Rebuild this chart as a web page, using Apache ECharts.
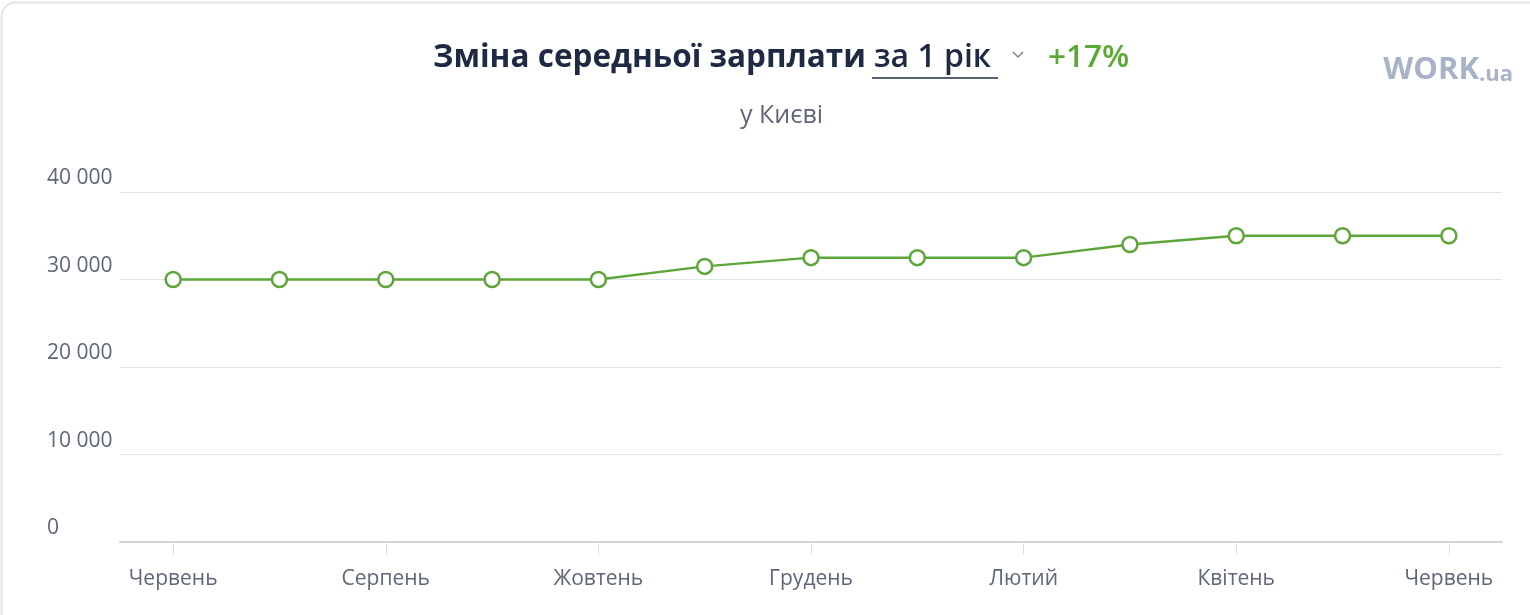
<!DOCTYPE html>
<html>
<head>
<meta charset="utf-8">
<script src="https://cdn.jsdelivr.net/npm/echarts@6/dist/echarts.min.js"></script>
<style>
  html, body { margin: 0; padding: 0; background: #fff; }
  #chart { width: 1530px; height: 615px; }
</style>
</head>
<body>
<div id="chart"></div>
<script>
// months, June to June
const months = ['Червень', 'Липень', 'Серпень', 'Вересень', 'Жовтень', 'Листопад', 'Грудень',
  'Січень', 'Лютий', 'Березень', 'Квітень', 'Травень', 'Червень']
// average salary, UAH
const salary = [30000, 30000, 30000, 30000, 30000, 31500, 32500, 32500, 32500, 34000, 35000, 35000, 35000]
const yTicks = [0, 10000, 20000, 30000, 40000]

const fontFamily = '"Open Sans", "Noto Sans", sans-serif'
const green = '#5da63a'

const chart = echarts.init(document.getElementById('chart'))

chart.setOption({
  backgroundColor: '#fff',
  animation: false,
  title: [{
    text: '{main|Зміна середньої зарплати}{sp|}{period|за 1 рік}{gap|}{pct|+17%}',
    left: 433,
    top: 42,
    padding: 0,
    textStyle: {
      fontFamily: fontFamily,
      rich: {
        main: {fontSize: 31.5, fontWeight: 'bold', color: '#1e2a44', fontFamily: fontFamily},
        sp: {width: 8},
        period: {fontSize: 32, fontWeight: 600, color: '#1e2a44', fontFamily: fontFamily, width: 126, align: 'left'},
        gap: {width: 48},
        pct: {fontSize: 31.5, fontWeight: 600, color: '#5aa935', fontFamily: fontFamily},
      },
    },
  }, {
    text: 'у Києві',
    left: 740,
    top: 103,
    padding: 0,
    textStyle: {fontSize: 25, fontWeight: 'normal', color: '#5f6675', fontFamily: fontFamily},
  }, {
    text: '{w|WORK}{u|.ua}',
    right: 12,
    top: 50,
    textStyle: {
      rich: {
        w: {fontSize: 31, fontWeight: 'bold', color: '#a8b3c7', fontFamily: fontFamily},
        u: {fontSize: 22, fontWeight: 'bold', color: '#a8b3c7', fontFamily: fontFamily, verticalAlign: 'bottom'},
      },
    },
  }],
  graphic: [{
    type: 'rect',
    shape: {x: 1.5, y: 2.5, width: 1600, height: 700, r: 14},
    style: {fill: 'none', stroke: '#e2e5e9', lineWidth: 2},
    silent: true,
  }, {
    type: 'line',
    shape: {x1: 872, y1: 78, x2: 998, y2: 78},
    style: {stroke: '#1e2a44', lineWidth: 1.5},
    silent: true,
  }, {
    type: 'polyline',
    shape: {points: [[1013, 52], [1018, 57], [1023, 52]]},
    style: {stroke: '#7a8190', lineWidth: 1.5, fill: 'none'},
    silent: true,
  }],
  grid: {
    left: 120,
    right: 28,
    top: 192,
    bottom: 73,
    containLabel: false,
  },
  xAxis: {
    type: 'category',
    boundaryGap: true,
    data: months,
    axisLine: {lineStyle: {color: '#cfd4d9', width: 2}},
    axisTick: {
      show: true,
      alignWithLabel: true,
      interval: 1,
      length: 13,
      lineStyle: {color: '#d9dde1', width: 1},
    },
    axisLabel: {
      interval: 1,
      margin: 27,
      fontSize: 21,
      color: '#5f6675',
      fontFamily: fontFamily,
    },
  },
  yAxis: {
    type: 'value',
    min: yTicks[0],
    max: yTicks[yTicks.length - 1],
    interval: yTicks[1] - yTicks[0],
    axisLine: {show: false},
    axisTick: {show: false},
    splitLine: {lineStyle: {color: '#e3e6e9', width: 1}},
    axisLabel: {
      align: 'left',
      verticalAlign: 'bottom',
      margin: 73,
      padding: [0, 0, 3, 0],
      fontSize: 21,
      color: '#5f6675',
      fontFamily: fontFamily,
      formatter: (v) => String(v).replace(/\B(?=(\d{3})+(?!\d))/g, ' '),
    },
  },
  series: [{
    type: 'line',
    data: salary,
    symbol: 'circle',
    symbolSize: 15,
    showSymbol: true,
    lineStyle: {color: green, width: 2.5},
    itemStyle: {color: '#fff', borderColor: green, borderWidth: 2.5},
  }],
})
</script>
</body>
</html>
